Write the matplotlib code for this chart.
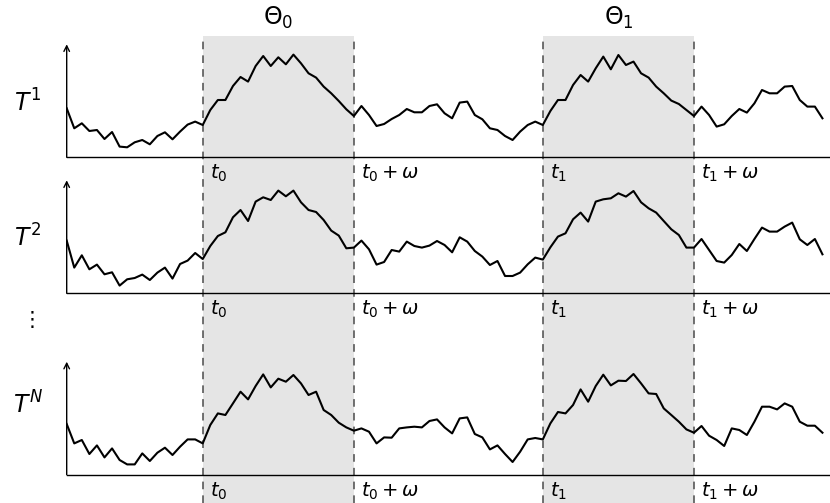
import matplotlib.pyplot as plt
from matplotlib import transforms

# values (pixel heights above each row's baseline)
idx = list(range(101))
row1 = [49, 29, 34, 26.3, 27.3, 18.3, 25.3, 10.7, 10, 15,
        17.3, 13, 21.3, 25, 18, 25.7, 32.7, 35.7, 32.3, 47.3,
        57.3, 57.3, 71.3, 80.3, 75.7, 91.3, 101.3, 91.3, 100, 93,
        102.7, 94, 84, 79.7, 70.7, 64, 56.3, 48, 41.3, 51.3,
        42.3, 31.3, 33.3, 38.3, 42.3, 48.3, 45, 45, 51.3, 53,
        44, 39, 54.7, 55.7, 42.3, 38, 29, 27.3, 21.3, 17.3,
        25.7, 32.3, 35.7, 32.3, 46.3, 57.3, 57.3, 72.3, 82.3, 75.7,
        89, 100.7, 88, 102.3, 92.3, 95.7, 84, 79.7, 70.7, 64,
        56.7, 53.3, 47.3, 41.3, 50.7, 42.3, 30.7, 33, 41.3, 48.3,
        44.7, 54, 67.3, 64, 64, 70.7, 71.3, 57.3, 50.7, 50.7,
        39]
row2 = [52.7, 25.7, 38, 24, 28.7, 19, 21, 7.7, 14, 15.3,
        18.7, 13.3, 20.7, 25.7, 14.7, 29.3, 32.7, 40.3, 34.3, 47.3,
        57.3, 61, 76, 83.3, 72.3, 91.7, 96, 93.3, 102.7, 97,
        102.7, 91, 83.3, 81.3, 73.3, 62.7, 57.7, 45, 45.7, 52.7,
        44, 28.7, 31.3, 43.3, 41.7, 51.7, 47.3, 45.7, 47.7, 52.3,
        48.3, 41, 56, 51.7, 42.3, 36.7, 28.3, 32.3, 17.3, 17.3,
        20.7, 29, 35.7, 33.7, 46, 56.7, 60, 74, 80.7, 71.7,
        91.7, 94, 95, 100, 96.7, 102.3, 91, 85, 80.7, 72.3,
        64, 58.3, 45.7, 45.7, 54.3, 43.3, 32.3, 30.7, 38.3, 49.3,
        42.3, 54.3, 65.7, 61.7, 61.7, 66.7, 70.7, 54, 48.3, 54.3,
        39]
row3 = [50.7, 31.3, 34.7, 20.7, 29.3, 17.3, 26.3, 14.7, 10.3, 10.3,
        21.3, 13.7, 22, 27, 19.7, 28, 35.3, 35.3, 31.3, 49.7,
        61.3, 59.7, 71.3, 83, 75.3, 88.7, 100.3, 87.3, 96, 93,
        99.7, 91.3, 79.7, 83, 64.7, 59.7, 52, 47.3, 44, 46.3,
        43, 31.3, 37.3, 37, 46.3, 47.3, 48, 47.3, 53.7, 55.3,
        47.3, 41.3, 56.3, 57.3, 40.7, 37.3, 25.3, 29.3, 20.7, 12.7,
        23, 35.3, 36.7, 35.3, 51.3, 62.7, 61.3, 69.7, 85.3, 73,
        88.7, 100, 89.3, 94, 93.7, 100.7, 91.3, 81.3, 80.7, 66.3,
        59.7, 53, 45.3, 42, 48.7, 39, 34.7, 28.7, 46.3, 44.7,
        39.7, 53, 68, 68, 65.3, 71.3, 68, 53, 49, 49,
        42]
rows = [row1, row2, row3]
row_names = [r'$T^1$', r'$T^2$', r'$T^N$']
windows = [(18, 38), (63, 83)]
window_names = [r'$\Theta_0$', r'$\Theta_1$']
edge_labels = [r'$t_0$', r'$t_0+\omega$', r'$t_1$', r'$t_1+\omega$']

W, H = 830, 503
fig = plt.figure(figsize=(W / 100, H / 100), dpi=100)
left = 66.7 / W
width = 1 - left
xmax = 101
row_h = 113

# background: shaded windows and dashed edges spanning all rows
bg = fig.add_axes([left, 0, width, (H - 36) / H])
bg.set_xlim(0, xmax)
bg.set_ylim(0, 1)
bg.axis('off')
top = transforms.blended_transform_factory(bg.transData, fig.transFigure)
for (a, b), name in zip(windows, window_names):
    bg.axvspan(a, b, color='#e5e5e5', lw=0)
    for x in (a, b):
        bg.axvline(x, color='#4a4a4a', lw=1.1, ls=(0, (5, 4)))
    bg.text((a + b) / 2, 1 - 18 / H, name, transform=top,
            ha='center', va='center', fontsize=17)

baselines = [157.3, 293.3, 474.7]
name_y = [103, 238, 405]
edges = [x for w in windows for x in w]

for vals, base, name, ny in zip(rows, baselines, row_names, name_y):
    ax = fig.add_axes([left, 1 - base / H, width, row_h / H])
    ax.patch.set_alpha(0)
    ax.plot(idx, vals, color='k', lw=1.5)
    ax.set_xlim(0, xmax)
    ax.set_ylim(0, row_h)
    for s in ('top', 'right', 'left'):
        ax.spines[s].set_visible(False)
    ax.spines['bottom'].set_linewidth(1)
    ax.set_xticks([])
    ax.set_yticks([])
    ax.annotate('', xy=(0, 1), xytext=(0, 0), xycoords='axes fraction',
                arrowprops=dict(arrowstyle='->', lw=1, color='k',
                                shrinkA=0, shrinkB=0))
    for x, lab in zip(edges, edge_labels):
        ax.annotate(lab, xy=(x, 0), xytext=(5, -4), textcoords='offset points',
                    ha='left', va='top', fontsize=14)
    fig.text(28 / W, 1 - ny / H, name, ha='center', va='center', fontsize=17)

fig.text(28 / W, 1 - 320 / H, r'$\vdots$', ha='center', va='center', fontsize=15)

fig.savefig('out.png', dpi=100)
